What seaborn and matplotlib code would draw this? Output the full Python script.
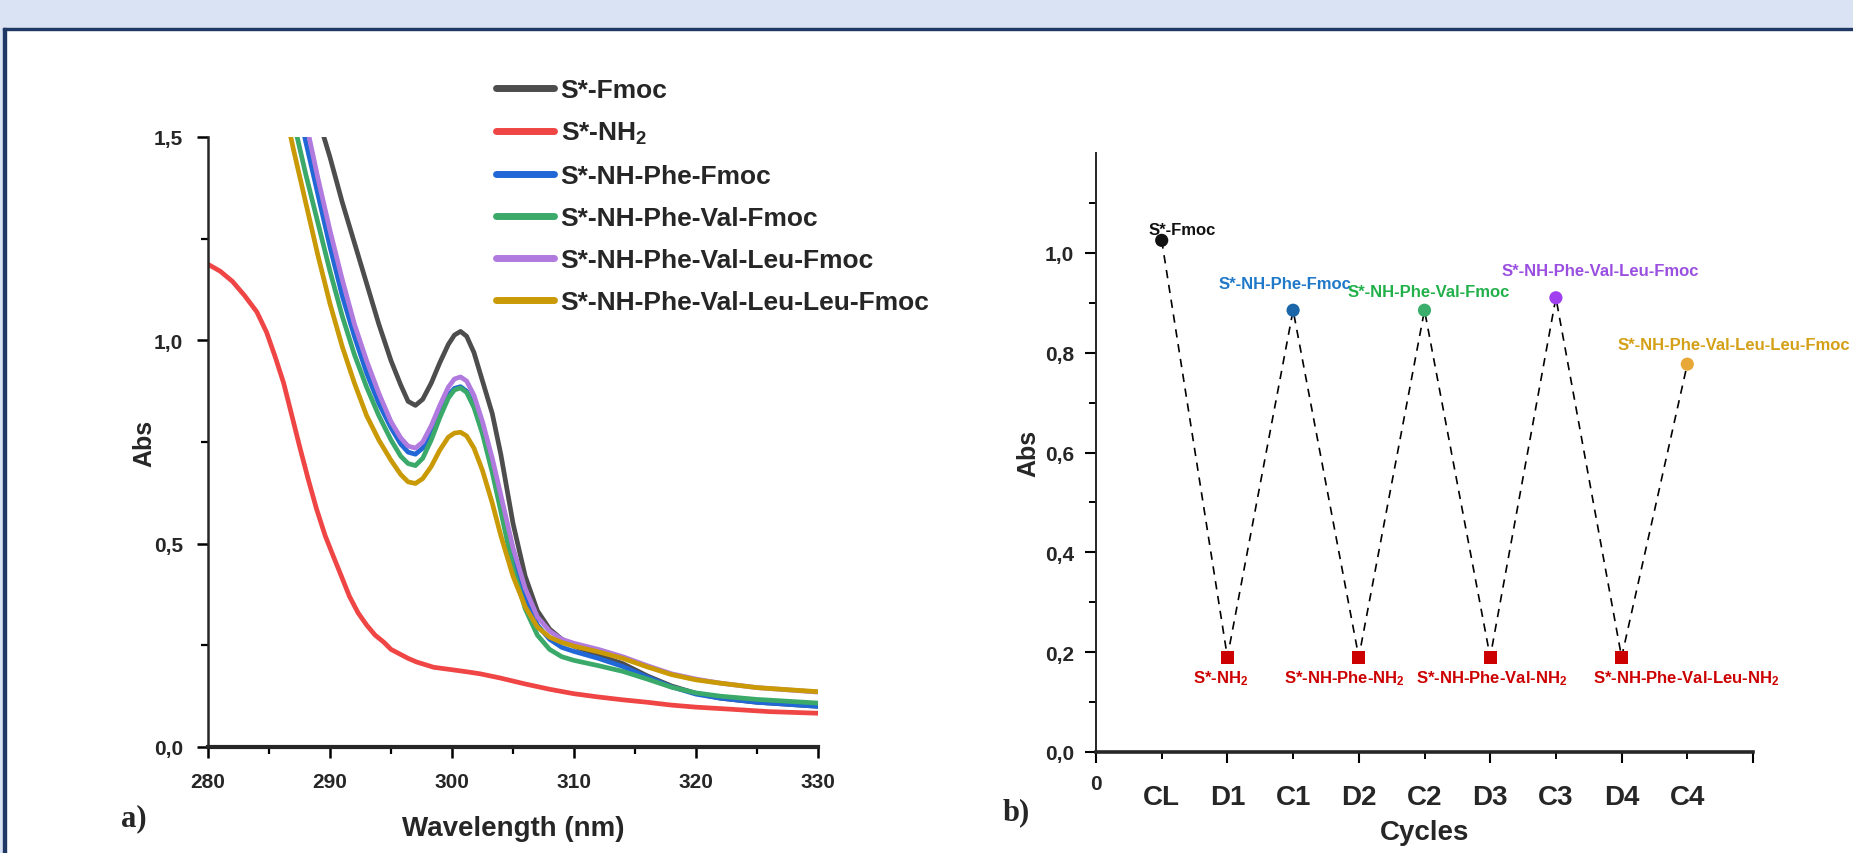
import matplotlib
matplotlib.use('Agg')
import matplotlib.pyplot as plt
import matplotlib.transforms as mtransforms
from matplotlib.patches import Rectangle
from matplotlib.ticker import MultipleLocator, FixedLocator, FuncFormatter
import pandas as pd
import seaborn as sns


# =============================================
# Дані: спектри поглинання (панель a)
# =============================================
nh2_wl = [280, 281, 282, 283, 284, 284.8, 285.5, 286.2, 287, 287.5, 288.2, 288.9, 289.6, 290.3, 291, 291.6,
          292.3, 293, 293.7, 294.4, 295, 295.7, 296.4, 297.1, 298.5, 300, 301.2, 302.3, 303.9, 306, 308,
          310, 312, 314, 316, 318, 320, 322.8, 326, 330]
nh2_abs = [1.187, 1.17, 1.145, 1.11, 1.07, 1.02, 0.96, 0.895, 0.80, 0.74, 0.66, 0.585, 0.52, 0.467, 0.415, 0.37,
           0.33, 0.30, 0.275, 0.258, 0.24, 0.229, 0.218, 0.209, 0.196, 0.19, 0.185, 0.18, 0.17, 0.155, 0.142,
           0.131, 0.123, 0.116, 0.11, 0.103, 0.098, 0.093, 0.087, 0.083]

tail_wl = [290, 291, 292, 293, 294, 295, 295.8, 296.4, 297, 297.6, 298.3, 299, 299.7, 300.2, 300.7, 301.2,
           301.8, 302.5, 303.3, 304, 305, 306, 307, 308, 309, 310, 312, 314, 316, 318, 320, 322, 325, 330]

fmoc_wl = [289] + tail_wl
fmoc_abs = [1.55, 1.45, 1.34, 1.24, 1.14, 1.04, 0.95, 0.89, 0.85, 0.84, 0.855, 0.895, 0.945, 0.99, 1.013,
            1.022, 1.01, 0.97, 0.9, 0.82, 0.72, 0.55, 0.42, 0.335, 0.29, 0.265, 0.248, 0.225, 0.205, 0.175,
            0.15, 0.132, 0.12, 0.11, 0.10]

phe_wl = [287.5, 288, 289] + tail_wl
phe_abs = [1.56, 1.49, 1.36, 1.23, 1.11, 1.01, 0.92, 0.845, 0.785, 0.745, 0.725, 0.72, 0.735, 0.775, 0.825,
           0.865, 0.882, 0.886, 0.875, 0.84, 0.78, 0.69, 0.6, 0.47, 0.37, 0.3, 0.265, 0.245, 0.235, 0.218,
           0.198, 0.172, 0.148, 0.13, 0.12, 0.11, 0.10]

val_wl = [287, 288, 289] + tail_wl
val_abs = [1.54, 1.41, 1.29, 1.17, 1.06, 0.965, 0.885, 0.815, 0.755, 0.715, 0.697, 0.692, 0.71, 0.755, 0.81,
           0.858, 0.878, 0.883, 0.872, 0.835, 0.77, 0.675, 0.58, 0.44, 0.34, 0.275, 0.24, 0.222, 0.213, 0.2,
           0.186, 0.167, 0.147, 0.133, 0.125, 0.117, 0.108]

leu_wl = [288, 289] + tail_wl
leu_abs = [1.54, 1.40, 1.27, 1.15, 1.04, 0.95, 0.87, 0.8, 0.76, 0.74, 0.735, 0.75, 0.79, 0.84, 0.885,
           0.905, 0.91, 0.9, 0.865, 0.8, 0.71, 0.62, 0.49, 0.39, 0.32, 0.285, 0.265, 0.255, 0.24, 0.222,
           0.2, 0.18, 0.167, 0.157, 0.146, 0.135]

leu2_wl = [286.5, 287, 288, 289] + tail_wl
leu2_abs = [1.54, 1.47, 1.34, 1.21, 1.09, 0.985, 0.895, 0.815, 0.755, 0.705, 0.67, 0.652, 0.648, 0.66, 0.69,
            0.73, 0.762, 0.772, 0.774, 0.765, 0.735, 0.68, 0.6, 0.52, 0.42, 0.345, 0.295, 0.27, 0.257, 0.248,
            0.234, 0.218, 0.197, 0.178, 0.165, 0.157, 0.146, 0.136]

spectra = [
    ('S*-Fmoc', fmoc_wl, fmoc_abs, '#4d4d4d'),
    ('S*-NH$_2$', nh2_wl, nh2_abs, '#ef4545'),
    ('S*-NH-Phe-Fmoc', phe_wl, phe_abs, '#2167d6'),
    ('S*-NH-Phe-Val-Fmoc', val_wl, val_abs, '#3aa96a'),
    ('S*-NH-Phe-Val-Leu-Fmoc', leu_wl, leu_abs, '#b07ade'),
    ('S*-NH-Phe-Val-Leu-Leu-Fmoc', leu2_wl, leu2_abs, '#c99a06'),
]

# =============================================
# Дані: цикли (панель b)
# =============================================
cycles = ['CL', 'D1', 'C1', 'D2', 'C2', 'D3', 'C3', 'D4', 'C4']
cycle_abs = [1.025, 0.19, 0.885, 0.19, 0.885, 0.19, 0.91, 0.19, 0.777]
cycle_names = ['S*-Fmoc', 'S*-NH$_2$', 'S*-NH-Phe-Fmoc', 'S*-NH-Phe-NH$_2$', 'S*-NH-Phe-Val-Fmoc',
               'S*-NH-Phe-Val-NH$_2$', 'S*-NH-Phe-Val-Leu-Fmoc', 'S*-NH-Phe-Val-Leu-NH$_2$',
               'S*-NH-Phe-Val-Leu-Leu-Fmoc']
marker_colors = ['#111111', '#cc0000', '#1a66a8', '#cc0000', '#3cae6c', '#cc0000', '#a040f0', '#cc0000', '#e8a838']
label_colors = ['#111111', '#cc0000', '#1f78c8', '#cc0000', '#22b04b', '#cc0000', '#9a4fe0', '#cc0000', '#d4a017']

# зсуви підписів (px) та вирівнювання
label_offsets = [(-13, 11), (-7, -20), (-8, 27), (-14, -20), (4, 19), (1, -20), (44, 27), (65, -20), (-70, 20)]
label_ha = ['left', 'center', 'center', 'center', 'center', 'center', 'center', 'center', 'left']

# =============================================
# Оформлення
# =============================================
W, H = 1853, 854
sns.set_theme(style='ticks')
plt.rcParams['font.family'] = ['Liberation Sans', 'DejaVu Sans']
plt.rcParams['font.weight'] = 'bold'
plt.rcParams['mathtext.fontset'] = 'custom'
plt.rcParams['mathtext.rm'] = 'Liberation Sans:bold'
plt.rcParams['mathtext.bf'] = 'Liberation Sans:bold'
plt.rcParams['mathtext.default'] = 'bf'

fig = plt.figure(figsize=(W / 100, H / 100), dpi=100)
fig.patch.set_facecolor('white')

# рамка слайду
fig.patches.append(Rectangle((0, 1 - 29 / H), 1, 29 / H, transform=fig.transFigure, color='#dae3f3', zorder=0))
fig.patches.append(Rectangle((0, 0), 3 / W, 1, transform=fig.transFigure, color='#dae3f3', zorder=0))
fig.patches.append(Rectangle((3 / W, 1 - 31 / H), 1, 2.5 / H, transform=fig.transFigure, color='#1f3864', zorder=1))
fig.patches.append(Rectangle((3 / W, 0), 2.5 / W, 1 - 29 / H, transform=fig.transFigure, color='#1f3864', zorder=1))

comma = FuncFormatter(lambda v, p: f'{v:.1f}'.replace('.', ','))

# ---------- a) ----------
ax1 = fig.add_axes([208 / W, 1 - 748 / H, 610 / W, 610 / H])
ax1.set_facecolor('none')
for name, wl, ab, col in spectra:
    sns.lineplot(x=wl, y=ab, ax=ax1, color=col, lw=3.4, label=name, sort=False)

ax1.set_xlim(280, 330)
ax1.set_ylim(0, 1.5)
sns.despine(ax=ax1)
ax1.spines['left'].set_linewidth(1.8)
ax1.spines['bottom'].set_linewidth(3.0)
ax1.xaxis.set_major_locator(MultipleLocator(10))
ax1.xaxis.set_minor_locator(MultipleLocator(5))
ax1.yaxis.set_major_locator(MultipleLocator(0.5))
ax1.yaxis.set_minor_locator(MultipleLocator(0.25))
ax1.yaxis.set_major_formatter(comma)
ax1.tick_params(which='major', direction='out', length=8, width=1.8, labelsize=15, pad=10, color='black')
ax1.tick_params(which='minor', direction='out', length=5, width=1.6, color='black')
ax1.set_xlabel('Wavelength (nm)', fontsize=20, fontweight='bold')
ax1.set_ylabel('Abs', fontsize=18, fontweight='bold')
ax1.xaxis.set_label_coords(0.5, -0.112)
ax1.yaxis.set_label_coords(-0.084, 0.5)

leg = ax1.legend(loc='upper left', bbox_to_anchor=(496 / W, 1 - 79 / H), bbox_transform=fig.transFigure,
                 frameon=False, fontsize=19, handlelength=2.2, handletextpad=0.25, labelspacing=0.68,
                 borderpad=0, borderaxespad=0)
for ln in leg.get_lines():
    ln.set_linewidth(5)
for t in leg.get_texts():
    t.set_fontweight('bold')

# ---------- b) ----------
ax2 = fig.add_axes([1096 / W, 1 - 753 / H, 657 / W, 599 / H])
ax2.set_facecolor('none')
cyc = pd.DataFrame({'pos': range(1, len(cycles) + 1), 'abs': cycle_abs, 'cycle': cycles,
                    'kind': [c[0] for c in cycles]})
sns.lineplot(data=cyc, x='pos', y='abs', ax=ax2, color='black', lw=1.2, sort=False,
             linestyle=(0, (5, 4)), zorder=2)
sns.scatterplot(data=cyc, x='pos', y='abs', hue='cycle', style='kind', ax=ax2,
                palette=dict(zip(cycles, marker_colors)), markers={'C': 'o', 'D': 's'},
                s=90, linewidth=0, legend=False, zorder=3)

for i, (name, col, (dx, dy), ha) in enumerate(zip(cycle_names, label_colors, label_offsets, label_ha)):
    ax2.annotate(name, (cyc['pos'][i], cyc['abs'][i]), xytext=(dx * 0.72, dy * 0.72),
                 textcoords='offset points', ha=ha, va='center', color=col, fontsize=12,
                 fontweight='bold', annotation_clip=False)

ax2.set_xlim(0, 10)
ax2.set_ylim(0, 1.2)
sns.despine(ax=ax2)
ax2.spines['left'].set_linewidth(1.4)
ax2.spines['bottom'].set_linewidth(2.6)
ax2.xaxis.set_major_locator(MultipleLocator(2))
ax2.xaxis.set_minor_locator(MultipleLocator(1))
ax2.xaxis.set_major_formatter(FuncFormatter(lambda v, p: '0' if v == 0 else ''))
ax2.yaxis.set_major_locator(FixedLocator([0, 0.2, 0.4, 0.6, 0.8, 1.0]))
ax2.yaxis.set_minor_locator(FixedLocator([0.1, 0.3, 0.5, 0.7, 0.9, 1.1]))
ax2.yaxis.set_major_formatter(comma)
ax2.tick_params(which='major', direction='out', length=8, width=1.5, labelsize=15, pad=8, color='black')
ax2.tick_params(which='minor', direction='out', length=5, width=1.4, color='black')

trans = mtransforms.blended_transform_factory(ax2.transData, ax2.transAxes)
for p, c in zip(cyc['pos'], cycles):
    ax2.text(p, -0.075, c, transform=trans, ha='center', va='center', fontsize=20, fontweight='bold')

ax2.set_xlabel('Cycles', fontsize=20, fontweight='bold')
ax2.set_ylabel('Abs', fontsize=18, fontweight='bold')
ax2.xaxis.set_label_coords(0.5, -0.112)
ax2.yaxis.set_label_coords(-0.085, 0.5)

fig.text(134 / W, 1 - 819 / H, 'a)', family='Liberation Serif', fontweight='bold', fontsize=22,
         ha='center', va='center')
fig.text(1016 / W, 1 - 813 / H, 'b)', family='Liberation Serif', fontweight='bold', fontsize=22,
         ha='center', va='center')

fig.savefig('out.png', dpi=100)
